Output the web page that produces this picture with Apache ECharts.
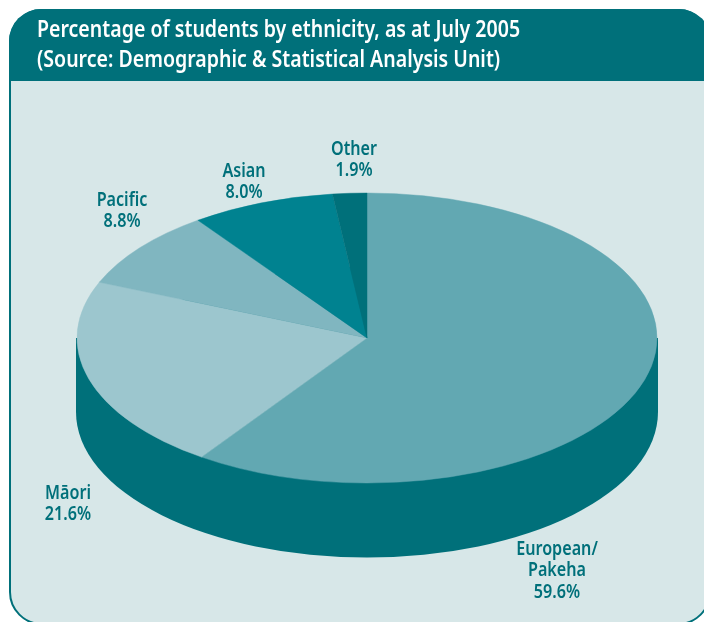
<!DOCTYPE html>
<html><head><meta charset="utf-8">
<style>html,body{margin:0;padding:0;background:#fff}#c{width:704px;height:622px}</style>
<script src="https://cdn.jsdelivr.net/npm/echarts@6/dist/echarts.min.js"></script>
</head><body><div id="c"></div>
<script>
const categories = ['European/\nPakeha', 'Māori', 'Pacific', 'Asian', 'Other'];
const values = [59.6, 21.6, 8.8, 8.0, 1.9];
const titleLines = ['Percentage of students by ethnicity, as at July 2005', '(Source: Demographic & Statistical Analysis Unit)'];

const sliceColors = ['#62a8b2', '#9cc6ce', '#80b6c0', '#008290', '#00707a'];
const labelAnchors = [[557, 571], [68, 504], [122, 211], [244, 182], [354, 160]];
const pie = {cx: 367, cy: 338, rx: 290, ry: 145, depth: 73};
const total = values.reduce((a, b) => a + b, 0);
const TEAL = '#00707a', LABEL = '#00707a';
const FONT = '"Noto Sans"';

const chart = echarts.init(document.getElementById('c'), null, {renderer: 'canvas'});

function renderSlice(params, api) {
  const i = params.dataIndex;
  let before = 0;
  for (let k = 0; k < i; k++) before += values[k];
  const v = api.value(1);
  const a0 = -Math.PI / 2 + before / total * 2 * Math.PI;
  const a1 = a0 + v / total * 2 * Math.PI;
  const a = labelAnchors[i];
  return {type: 'group', children: [
    {type: 'sector', x: pie.cx, y: pie.cy, scaleY: pie.ry / pie.rx,
      shape: {cx: 0, cy: 0, r0: 0, r: pie.rx, startAngle: a0, endAngle: a1, clockwise: true},
      style: {fill: sliceColors[i], stroke: sliceColors[i], lineWidth: 0.6}},
    {type: 'text', x: a[0], y: a[1], scaleX: 0.85, z2: 10,
      style: {text: categories[i] + '\n' + v.toFixed(1) + '%', align: 'center', verticalAlign: 'middle',
        font: '600 19px ' + FONT, lineHeight: 21.5, fill: LABEL}}
  ]};
}

function renderDepth(params, api) {
  const r = pie.rx + 1;
  return {type: 'group', children: [
    {type: 'sector', x: pie.cx, y: pie.cy + pie.depth + 1, scaleY: pie.ry / pie.rx,
      shape: {cx: 0, cy: 0, r0: 0, r: r, startAngle: 0, endAngle: Math.PI * 2},
      style: {fill: TEAL}},
    {type: 'rect', shape: {x: pie.cx - r, y: pie.cy, width: 2 * r, height: pie.depth + 1},
      style: {fill: TEAL}}
  ]};
}

chart.setOption({
  animation: false,
  backgroundColor: '#ffffff',
  tooltip: {show: false},
  graphic: [
    {type: 'rect', z: 0, shape: {x: 10, y: 10, width: 700, height: 614, r: 32},
      style: {fill: '#d7e7e8', stroke: TEAL, lineWidth: 2}},
    {type: 'rect', z: 1, shape: {x: 9, y: 9, width: 702, height: 72, r: [32, 32, 0, 0]},
      style: {fill: TEAL}},
    {type: 'text', z: 2, x: 37, y: 30, scaleX: 0.85,
      style: {text: titleLines[0], font: '600 23px ' + FONT, fill: '#ffffff', verticalAlign: 'middle'}},
    {type: 'text', z: 2, x: 37, y: 60, scaleX: 0.85,
      style: {text: titleLines[1], font: '600 23px ' + FONT, fill: '#ffffff', verticalAlign: 'middle'}}
  ],
  series: [
    {type: 'custom', coordinateSystem: 'none', z: 2, silent: true, data: [[0, total]], renderItem: renderDepth},
    {type: 'custom', coordinateSystem: 'none', z: 3, silent: true,
      data: categories.map((c, i) => [i, values[i]]), renderItem: renderSlice}
  ]
});
</script></body></html>
